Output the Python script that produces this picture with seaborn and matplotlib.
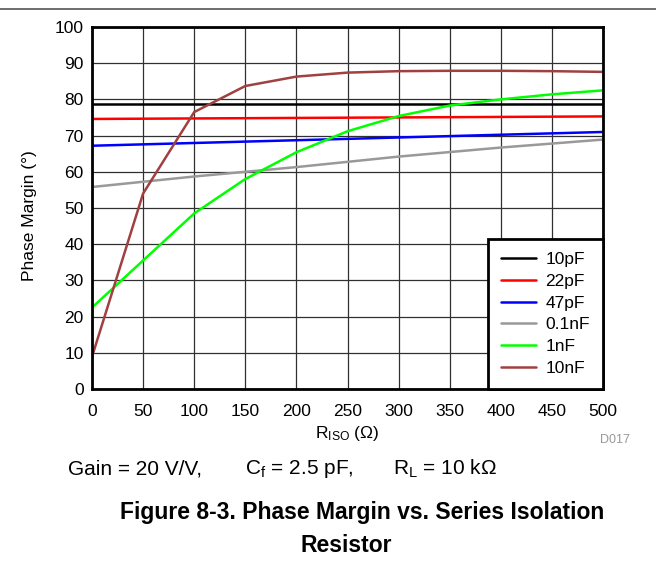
import seaborn as sns
import matplotlib.pyplot as plt
import matplotlib.lines as mlines
import pandas as pd

# Values
labels = ["10pF", "22pF", "47pF", "0.1nF", "1nF", "10nF"]
colors = ["#000000", "#ff0000", "#0000ff", "#999999", "#00ff00", "#a04040"]

x_10pf = [0, 500]
pm_10pf = [78.6, 78.6]
x_22pf = [0, 500]
pm_22pf = [74.6, 75.3]
x_47pf = [0, 500]
pm_47pf = [67.2, 71.0]
x_01nf = [0, 100, 200, 300, 400, 500]
pm_01nf = [55.8, 58.7, 61.3, 64.2, 66.7, 68.9]
x_1nf = [0, 50, 100, 150, 200, 250, 300, 350, 400, 450, 500]
pm_1nf = [22.5, 35.5, 48.5, 58.0, 65.4, 71.2, 75.4, 78.3, 80.0, 81.4, 82.5]
x_10nf = [0, 50, 100, 150, 200, 250, 300, 350, 400, 450, 500]
pm_10nf = [8.9, 54.0, 76.5, 83.7, 86.3, 87.4, 87.8, 87.9, 87.9, 87.8, 87.6]

xs = [x_10pf, x_22pf, x_47pf, x_01nf, x_1nf, x_10nf]
ys = [pm_10pf, pm_22pf, pm_47pf, pm_01nf, pm_1nf, pm_10nf]

rows = []
for lab, xv, yv in zip(labels, xs, ys):
    for a, b in zip(xv, yv):
        rows.append({"riso": a, "pm": b, "cap": lab})
df = pd.DataFrame(rows)

sns.set_style("white")
plt.rcParams["font.family"] = ["Liberation Sans", "DejaVu Sans"]
plt.rcParams["mathtext.fontset"] = "custom"
plt.rcParams["mathtext.rm"] = "Liberation Sans"
plt.rcParams["mathtext.it"] = "Liberation Sans"
for k in ["text.color", "axes.labelcolor", "xtick.color", "ytick.color"]:
    plt.rcParams[k] = "black"

W, H = 656, 565
fig = plt.figure(figsize=(W / 100, H / 100), dpi=100)
ax = fig.add_axes([92 / W, 1 - 389 / H, (603 - 92) / W, (389 - 27) / H])

sns.lineplot(data=df, x="riso", y="pm", hue="cap", hue_order=labels,
             palette=dict(zip(labels, colors)), linewidth=1.8, ax=ax,
             estimator=None, sort=False)

ax.set_xlim(0, 500)
ax.set_ylim(0, 100)
ax.set_xticks(range(0, 501, 50))
ax.set_yticks(range(0, 101, 10))
ax.grid(True, color="#303030", linewidth=0.9)
ax.tick_params(axis="x", labelsize=12.5, length=0, pad=10.5)
ax.tick_params(axis="y", labelsize=12.5, length=0, pad=6)
for s in ax.spines.values():
    s.set_linewidth(2)
    s.set_color("black")

ax.set_xlabel(r"R$_{\mathrm{ISO}}$ ($\Omega$)", fontsize=12.5, labelpad=4)
ax.set_ylabel("Phase Margin (°)", fontsize=12.5)
ax.yaxis.set_label_coords(-0.108, 0.48)

leg = ax.legend(loc="lower right", fontsize=12.5, frameon=True, fancybox=False,
                borderaxespad=0, handlelength=2.0, handletextpad=0.55,
                labelspacing=0.38, borderpad=0.75, framealpha=1)
leg.get_frame().set_edgecolor("black")
leg.get_frame().set_linewidth(2)
for h in leg.get_lines():
    h.set_linewidth(1.8)

fig.text(615 / W, 1 - 440 / H, "D017", fontsize=9, color="#999999", ha="center", va="center")
fig.text(68 / W, 1 - 469 / H, "Gain = 20 V/V,", fontsize=15, ha="left", va="center")
fig.text(245 / W, 1 - 469 / H, r"C$_{\mathrm{f}}$ = 2.5 pF,", fontsize=15, ha="left", va="center")
fig.text(393 / W, 1 - 469 / H, r"R$_{\mathrm{L}}$ = 10 k$\Omega$", fontsize=15, ha="left", va="center")
fig.text(362 / W, 1 - 512 / H, "Figure 8-3. Phase Margin vs. Series Isolation", fontsize=16.5,
         fontweight="bold", ha="center", va="center")
fig.text(346 / W, 1 - 545 / H, "Resistor", fontsize=16.5, fontweight="bold", ha="center", va="center")

fig.add_artist(mlines.Line2D([0, 1], [1 - 9 / H, 1 - 9 / H], color="#555555", linewidth=1.2,
                             transform=fig.transFigure))

fig.savefig("out.png", dpi=100)
